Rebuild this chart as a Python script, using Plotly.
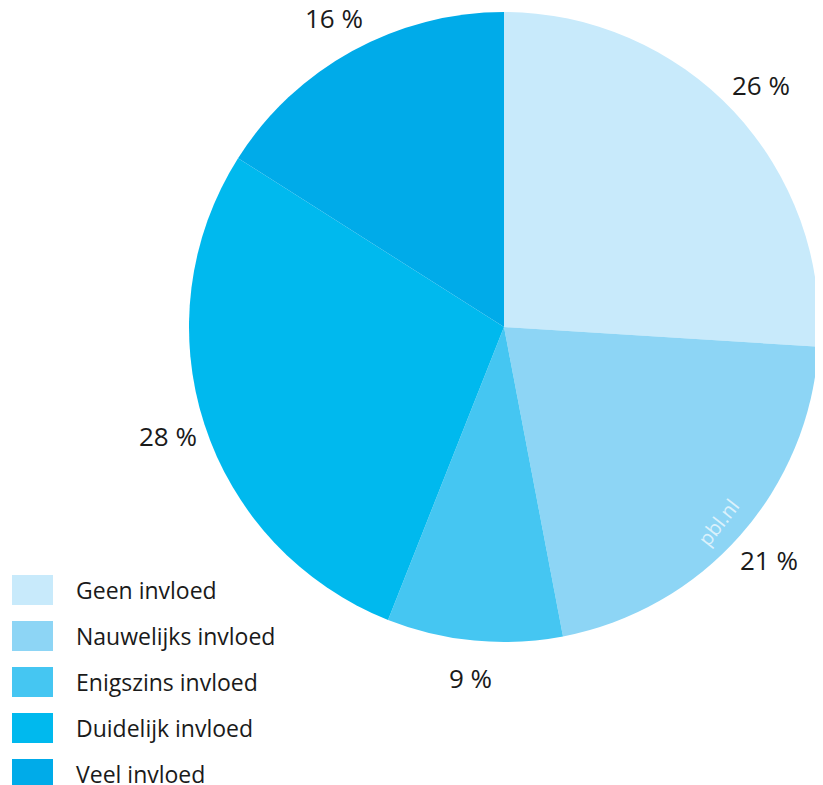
import math
import plotly.graph_objects as go

categories = ["Geen invloed", "Nauwelijks invloed", "Enigszins invloed", "Duidelijk invloed", "Veel invloed"]
values = [26, 21, 9, 28, 16]
value_labels = ["26 %", "21 %", "9 %", "28 %", "16 %"]
colors = ["#c8eafb", "#8dd5f5", "#45c6f2", "#00b9ee", "#00abe9"]

OFF = 8  # page body margin
W, H = 823 - OFF, 785 - OFF
cx, cy, r = 504 - OFF, 327 - OFF, 315  # pixel centre / radius of pie


def px(x):
    return (x - OFF) / W


def py(y):
    return 1 - (y - OFF) / H


fig = go.Figure()
fig.add_trace(go.Pie(
    labels=categories, values=values, sort=False, direction="clockwise", rotation=0,
    marker=dict(colors=colors, line=dict(width=0)),
    textinfo="none", hoverinfo="label+percent", showlegend=False,
    domain=dict(x=[(cx - r) / W, (cx + r) / W], y=[1 - (cy + r) / H, 1 - (cy - r) / H]),
))

annotations = []
total = sum(values)
cum = 0
label_r = r + 38
for v, t in zip(values, value_labels):
    mid = (cum + v / 2) / total * 2 * math.pi
    cum += v
    x = cx + label_r * math.sin(mid)
    y = cy - label_r * math.cos(mid)
    annotations.append(dict(x=x / W, y=1 - y / H, xref="paper", yref="paper", text=t,
                            showarrow=False, xanchor="center", yanchor="middle",
                            font=dict(family="Open Sans", size=26, color="#1a1a1a")))

# watermark
annotations.append(dict(x=px(718), y=py(522), xref="paper", yref="paper", text="pbl.nl",
                        showarrow=False, textangle=-52, xanchor="center", yanchor="middle",
                        font=dict(family="Open Sans", size=20, color="rgba(255,255,255,0.7)")))

shapes = []
row0, step = 590, 46
for i, (c, col) in enumerate(zip(categories, colors)):
    yc = row0 + i * step
    shapes.append(dict(type="rect", xref="paper", yref="paper",
                       x0=px(12), x1=px(53), y0=py(yc + 15), y1=py(yc - 15),
                       fillcolor=col, line=dict(width=0)))
    annotations.append(dict(x=px(74), y=py(yc), xref="paper", yref="paper", text=c,
                            showarrow=False, xanchor="left", yanchor="middle",
                            font=dict(family="Open Sans", size=23, color="#1a1a1a")))

fig.update_layout(width=W, height=H, margin=dict(l=0, r=0, t=0, b=0),
                  paper_bgcolor="white", plot_bgcolor="white",
                  annotations=annotations, shapes=shapes)
fig.write_html("out.html")
